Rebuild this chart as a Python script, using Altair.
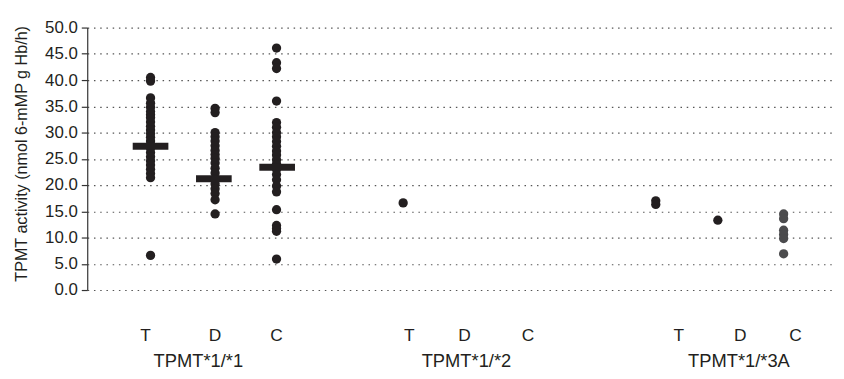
import altair as alt
import pandas as pd

# ---- data ----
col_ids = ["T1", "D1", "C1", "T2", "T3", "D3", "C3"]
col_x = [1.02, 2.06, 3.05, 5.09, 9.16, 10.16, 11.22]
col_shade = ["dark", "dark", "dark", "dark", "dark", "dark", "gray"]
col_values = [
    [40.5, 39.8, 36.6, 35.6, 34.8, 34.0, 33.4, 32.8, 32.0, 31.2, 30.5, 29.8, 29.1,
     28.4, 27.7, 27.0, 26.2, 25.4, 24.6, 23.8, 23.0, 22.2, 21.4, 6.6],
    [34.6, 33.8, 30.0, 29.2, 28.4, 27.5, 26.6, 25.8, 25.1, 24.2, 23.2, 22.3, 21.2,
     20.2, 19.3, 18.4, 17.2, 14.5],
    [46.1, 43.3, 42.2, 36.0, 31.9, 31.0, 30.0, 29.2, 28.3, 27.4, 26.5, 25.7, 24.8,
     24.0, 23.0, 22.0, 21.0, 19.8, 18.7, 15.3, 12.3, 11.7, 11.2, 5.9],
    [16.6],
    [17.0, 16.3],
    [13.3],
    [14.5, 13.6, 11.4, 10.6, 9.8, 6.9],
]

mean_x = [1.02, 2.04, 3.06]
mean_y = [27.4, 21.2, 23.4]

sub_labels = ["T", "D", "C", "T", "D", "C", "T", "D", "C"]
sub_x = [0.94, 2.06, 3.05, 5.19, 6.08, 7.10, 9.53, 10.52, 11.41]
sub_y = -8.7

group_labels = ["TPMT*1/*1", "TPMT*1/*2", "TPMT*1/*3A"]
group_x = [1.79, 6.11, 10.50]
group_y = -13.6

y_ticks = [0, 5, 10, 15, 20, 25, 30, 35, 40, 45, 50]

# ---- build tables ----
rows = []
for cid, cx, sh, vals in zip(col_ids, col_x, col_shade, col_values):
    for v in vals:
        rows.append({"col": cid, "x": cx, "y": v, "shade": sh})
dots = pd.DataFrame(rows)
means = pd.DataFrame({"x": mean_x, "y": mean_y})
subs = pd.DataFrame({"x": sub_x, "y": [sub_y] * len(sub_x), "t": sub_labels})
groups = pd.DataFrame({"x": group_x, "y": [group_y] * len(group_x), "t": group_labels})

FONT = "Liberation Sans"
INK = "#231f20"

xs = alt.Scale(domain=[0, 12], nice=False, zero=False)
ys = alt.Scale(domain=[0, 50], nice=False)

yaxis = alt.Axis(
    values=y_ticks, format=".1f", title="TPMT activity (nmol 6-mMP g Hb/h)",
    labelOverlap=False, labelFlush=False,
)

X = alt.X("x:Q", scale=xs, axis=None)
Y = alt.Y("y:Q", scale=ys, axis=yaxis)

points = alt.Chart(dots).mark_circle(size=88, opacity=1).encode(
    x=X, y=Y,
    color=alt.Color("shade:N", scale=alt.Scale(domain=["dark", "gray"],
                                               range=[INK, "#4b4b4d"]), legend=None),
)

bars = alt.Chart(means).mark_tick(orient="horizontal", size=36, thickness=7,
                                  color=INK, opacity=1).encode(x=X, y=Y)

sub_text = alt.Chart(subs).mark_text(font=FONT, fontSize=17.5, color=INK,
                                     baseline="middle", align="center").encode(
    x=X, y=Y, text="t:N")

grp_text = alt.Chart(groups).mark_text(font=FONT, fontSize=18.5, color=INK,
                                       baseline="middle", align="center").encode(
    x=X, y=Y, text="t:N")

chart = alt.layer(points, bars, sub_text, grp_text).properties(
    width=752, height=265,
    autosize=alt.AutoSizeParams(type="none"),
    padding={"left": 80, "top": 18, "right": 4, "bottom": 80},
    background="white",
).configure_view(stroke=None).configure_axisY(
    labelFont=FONT, labelFontSize=17, labelColor=INK, labelPadding=4,
    titleFont=FONT, titleFontSize=16.3, titleFontWeight="normal", titleColor=INK,
    titlePadding=15, titleY=127,
    domainColor="#333333", domainWidth=1.2, tickColor="#333333", tickSize=6,
    tickWidth=1.2, grid=True, gridColor="#555555", gridDash=[1.5, 4.8],
    gridWidth=1.2,
)

chart.save("out.html", embed_options={"renderer": "svg", "actions": False})
